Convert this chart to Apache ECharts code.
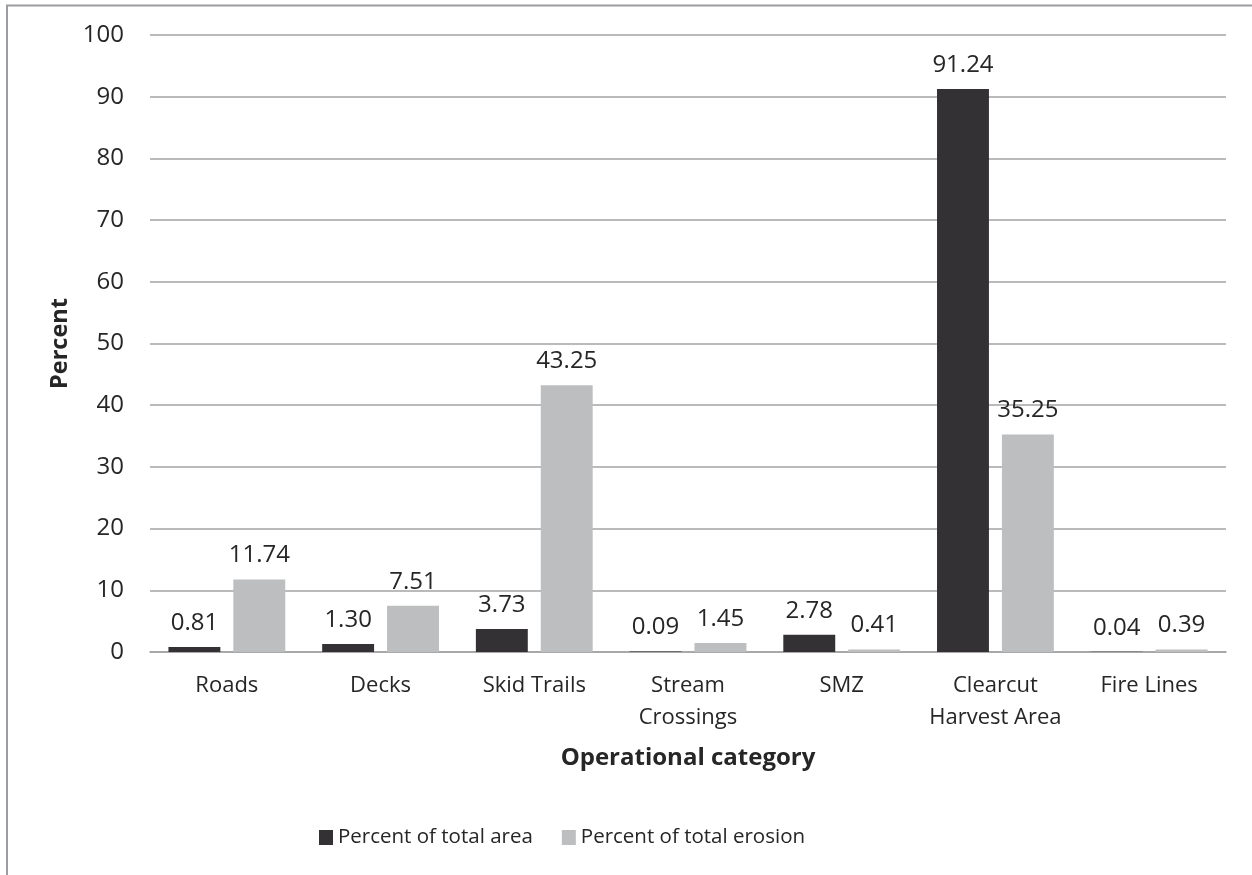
<!DOCTYPE html>
<html>
<head>
<meta charset="utf-8">
<title>Percent of total area and erosion by operational category</title>
<script src="https://cdn.jsdelivr.net/npm/echarts@6/dist/echarts.min.js"></script>
<style>
  html, body { margin: 0; padding: 0; background: #ffffff; }
  #chart { width: 1252px; height: 875px; }
</style>
</head>
<body>
<div id="chart"></div>
<script>
// Operational categories along the x axis
const categories = ['Roads', 'Decks', 'Skid Trails', 'Stream\nCrossings', 'SMZ', 'Clearcut\nHarvest Area', 'Fire Lines'];

// Share of total area (%) per category
const areaPercent = [0.81, 1.30, 3.73, 0.09, 2.78, 91.24, 0.04];

// Share of total erosion (%) per category
const erosionPercent = [11.74, 7.51, 43.25, 1.45, 0.41, 35.25, 0.39];

const seriesNames = ['Percent of total area', 'Percent of total erosion'];

const FONT = '"Open Sans", "DejaVu Sans", sans-serif';
const TEXT = '#262626';
const GRID_LINE = '#a3a3a3';

const chart = echarts.init(document.getElementById('chart'), null, { renderer: 'canvas' });

const valueLabel = {
  show: true,
  position: 'top',
  distance: 12,
  fontFamily: FONT,
  fontSize: 24,
  color: TEXT,
  formatter: p => Number(p.value).toFixed(2)
};

chart.setOption({
  backgroundColor: '#ffffff',
  animation: false,
  graphic: [
    // chart frame: top and left edges
    {
      type: 'polyline',
      shape: { points: [[7, 875], [7, 5.5], [1252, 5.5]] },
      style: { stroke: '#9d9da1', lineWidth: 2, fill: null },
      silent: true
    }
  ],
  grid: {
    left: 150,
    right: 26,
    top: 35,
    bottom: 223,
    containLabel: false
  },
  legend: {
    data: seriesNames,
    left: 319,
    top: 827,
    padding: 0,
    icon: 'rect',
    itemWidth: 14,
    itemHeight: 15,
    itemGap: 29,
    textStyle: {
      fontFamily: FONT,
      fontSize: 20.5,
      color: TEXT
    }
  },
  xAxis: {
    type: 'category',
    data: categories,
    name: 'Operational category',
    nameLocation: 'middle',
    nameGap: 94,
    nameTextStyle: {
      fontFamily: FONT,
      fontSize: 24,
      fontWeight: 'bold',
      color: TEXT
    },
    axisLine: { show: true, lineStyle: { color: GRID_LINE, width: 1.6 } },
    axisTick: { show: false },
    axisLabel: {
      interval: 0,
      margin: 18,
      fontFamily: FONT,
      fontSize: 22,
      lineHeight: 32,
      color: TEXT
    }
  },
  yAxis: {
    type: 'value',
    min: 0,
    max: 100,
    interval: 10,
    name: 'Percent',
    nameLocation: 'middle',
    nameGap: 77,
    nameTextStyle: {
      fontFamily: FONT,
      fontSize: 23.5,
      fontWeight: 'bold',
      color: TEXT
    },
    axisLine: { show: false },
    axisTick: { show: false },
    axisLabel: {
      margin: 26,
      fontFamily: FONT,
      fontSize: 24,
      color: TEXT
    },
    splitLine: { show: true, lineStyle: { color: GRID_LINE, width: 1.6 } }
  },
  series: [
    {
      name: seriesNames[0],
      type: 'bar',
      data: areaPercent,
      barGap: '25%',
      barCategoryGap: '24%',
      itemStyle: { color: '#333134' },
      label: valueLabel
    },
    {
      name: seriesNames[1],
      type: 'bar',
      data: erosionPercent,
      barGap: '25%',
      barCategoryGap: '24%',
      itemStyle: { color: '#bdbec0' },
      label: valueLabel
    }
  ]
});
</script>
</body>
</html>
